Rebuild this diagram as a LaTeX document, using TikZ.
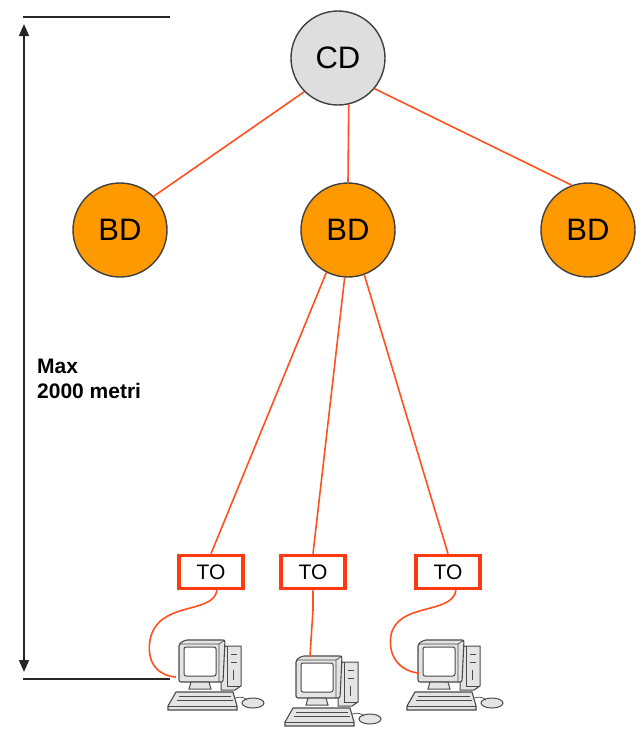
\documentclass[tikz,border=0pt]{standalone}
\usepackage{fontspec}
\setmainfont{Liberation Sans}
\usetikzlibrary{arrows.meta}
\definecolor{hubgrey}{HTML}{DEDEDE}
\definecolor{hubedge}{HTML}{404040}
\definecolor{bdorange}{HTML}{FF9900}
\definecolor{cable}{HTML}{FF5020}
\definecolor{toedge}{HTML}{FF3A10}
\definecolor{pcline}{HTML}{4A4A4A}
\definecolor{pcfill}{HTML}{E4E4E4}
\begin{document}
\begin{tikzpicture}[x=1pt,y=-1pt,
  hub/.style={circle,draw=hubedge,line width=1.4pt,minimum size=94pt,inner sep=0pt,font=\fontsize{31}{34}\selectfont},
  cdhub/.style={hub,fill=hubgrey},
  bdhub/.style={hub,fill=bdorange},
  outlet/.style={draw=toedge,line width=3.6pt,fill=white,minimum width=64pt,minimum height=33pt,inner sep=0pt,font=\fontsize{21}{23}\selectfont},
  link/.style={draw=cable,line width=1.6pt},
  measure/.style={draw=black!85,line width=1.5pt},
  pc/.pic={
    % tower behind the monitor
    \draw[pcline,line width=1pt,fill=pcfill] (44,8) -- (50,6) -- (64,6) -- (64,46) -- (58,50) -- (44,50) -- cycle;
    \draw[pcline,line width=0.8pt] (50,6) -- (50,46) -- (64,46);
    \draw[pcline,line width=0.6pt] (54,14) -- (60,14) (54,22) -- (60,22) (56,30) -- (56,40);
    % monitor
    \draw[pcline,line width=1.1pt,fill=pcfill,rounded corners=2pt] (2,4) -- (8,0) -- (48,0) -- (46,42) -- (2,42) -- cycle;
    \draw[pcline,line width=1pt,fill=white,rounded corners=2pt] (7,7) rectangle (39,36);
    \draw[pcline,line width=0.7pt] (2,4) -- (42,4) -- (42,42) (42,4) -- (48,0);
    % stand
    \draw[pcline,line width=1pt,fill=pcfill] (14,42) -- (32,42) -- (34,49) -- (12,49) -- cycle;
    % keyboard
    \draw[pcline,line width=1.1pt,fill=pcfill] (-1,52) -- (56,52) -- (60,66) -- (60,70) -- (-9,70) -- (-9,66) -- cycle;
    \draw[pcline,line width=0.6pt] (-9,66) -- (60,66) (2,56) -- (54,56) (0,60) -- (56,60);
    % mouse and its lead
    \draw[pcline,line width=1pt,fill=pcfill] (76,63) ellipse (11pt and 5pt);
    \draw[pcline,line width=0.7pt] (58,58) .. controls (64,56) and (68,58) .. (70,60);
  }]
\useasboundingbox (0,0) rectangle (642,731);

% hubs
\node[cdhub] (cd) at (338,58) {CD};
\node[bdhub] (bd1) at (120,230) {BD};
\node[bdhub] (bd2) at (348,230) {BD};
\node[bdhub] (bd3) at (588,230) {BD};

% outlets
\node[outlet] (to1) at (211,572) {TO};
\node[outlet] (to2) at (313,572) {TO};
\node[outlet] (to3) at (448,572) {TO};

% backbone links
\draw[link] (cd.225) -- (bd1.45);
\draw[link] (cd.283) -- (bd2.north);
\draw[link] (cd.320) -- (bd3.110);

% horizontal links
\draw[link] (bd2.243) -- (to1.north);
\draw[link] (bd2.266) -- (to2.north);
\draw[link] (bd2.290) -- (to3.north);

% workstations
\pic (pc1) at (177,640) {pc};
\pic (pc2) at (294,656) {pc};
\pic (pc3) at (416,640) {pc};
\coordinate (in1) at (176,677);
\coordinate (in2) at (310,657);
\coordinate (in3) at (419,673);

% patch cords
\draw[link] ([xshift=6pt]to1.south) .. controls (213,615) and (158,600) .. (150,640)
  .. controls (146,665) and (160,676) .. (in1);
\draw[link] (to2.south) -- (313,610) -- (311,640) -- (in2);
\draw[link] ([xshift=8pt]to3.south) .. controls (452,615) and (398,602) .. (391,635)
  .. controls (387,660) and (404,672) .. (in3);

% distance marker
\coordinate (t0) at (23,17);
\coordinate (t1) at (170,17);
\coordinate (b0) at (23,679);
\coordinate (b1) at (170,679);
\draw[measure] (t0) -- (t1);
\draw[measure] (b0) -- (b1);
\draw[measure,{Triangle[length=12pt,width=10pt]}-{Triangle[length=12pt,width=10pt]}] (24,24) -- (24,672);
\node[anchor=north west,align=left,font=\bfseries\fontsize{21}{25}\selectfont,inner sep=0pt] (dist) at (37,359) {Max\\2000 metri};
\end{tikzpicture}
\end{document}
